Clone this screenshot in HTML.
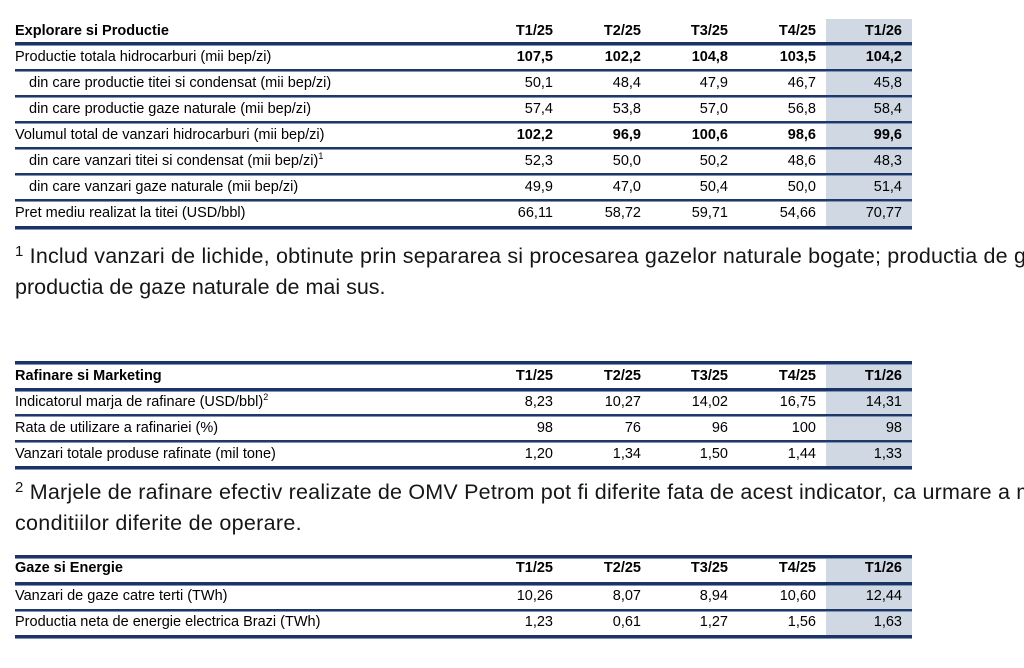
<!DOCTYPE html>
<html><head><meta charset="utf-8">
<style>
html,body{margin:0;padding:0;background:#fff;}
body{width:1024px;height:668px;position:relative;overflow:hidden;font-family:"Liberation Sans",Arial,sans-serif;color:#000;}
.shade{position:absolute;left:826px;width:86px;background:#cfd8e3;}
.ln{position:absolute;left:15px;width:897px;height:2px;background:#1f3866;box-shadow:0 1px 0 #7d93b8;}
.ln.t{height:3px;background:#1c3463;}
.row{position:absolute;left:15px;width:897px;height:20px;line-height:20px;display:flex;font-size:14.5px;white-space:nowrap;overflow:hidden;}
.row > div{flex:none;}
.row .l{width:460px;box-sizing:border-box;}
.row .l.i{padding-left:14px;}
.row .c{box-sizing:border-box;text-align:right;padding-right:10px;}
.c1{width:88px}.c2{width:88px}.c3{width:87px}.c5{width:88px}.c4{width:86px}
.b{font-weight:bold;}
sup.s{font-size:9px;line-height:0;vertical-align:6px;}
.clip{position:absolute;left:0;width:1024px;height:31px;overflow:hidden;}
.fn{position:absolute;left:15px;top:0;font-size:21.5px;line-height:31px;white-space:nowrap;color:#161616;}
.fn sup{font-size:15px;line-height:0;vertical-align:7px;}
</style></head><body>

<!-- Table 1 -->
<div class="shade" style="top:19px;height:209px;"></div>
<div class="row b" style="top:21px;"><div class="l">Explorare si Productie</div><div class="c c1">T1/25</div><div class="c c2">T2/25</div><div class="c c3">T3/25</div><div class="c c5">T4/25</div><div class="c c4">T1/26</div></div>
<div class="ln t" style="top:42px;"></div>
<div class="row" style="top:47px;"><div class="l">Productie totala hidrocarburi (mii bep/zi)</div><div class="c c1 b">107,5</div><div class="c c2 b">102,2</div><div class="c c3 b">104,8</div><div class="c c5 b">103,5</div><div class="c c4 b">104,2</div></div>
<div class="ln" style="top:69px;"></div>
<div class="row" style="top:73px;"><div class="l i">din care productie titei si condensat (mii bep/zi)</div><div class="c c1">50,1</div><div class="c c2">48,4</div><div class="c c3">47,9</div><div class="c c5">46,7</div><div class="c c4">45,8</div></div>
<div class="ln" style="top:95px;"></div>
<div class="row" style="top:99px;"><div class="l i">din care productie gaze naturale (mii bep/zi)</div><div class="c c1">57,4</div><div class="c c2">53,8</div><div class="c c3">57,0</div><div class="c c5">56,8</div><div class="c c4">58,4</div></div>
<div class="ln" style="top:121px;"></div>
<div class="row" style="top:125px;"><div class="l">Volumul total de vanzari hidrocarburi (mii bep/zi)</div><div class="c c1 b">102,2</div><div class="c c2 b">96,9</div><div class="c c3 b">100,6</div><div class="c c5 b">98,6</div><div class="c c4 b">99,6</div></div>
<div class="ln" style="top:147px;"></div>
<div class="row" style="top:151px;"><div class="l i">din care vanzari titei si condensat (mii bep/zi)<sup class="s">1</sup></div><div class="c c1">52,3</div><div class="c c2">50,0</div><div class="c c3">50,2</div><div class="c c5">48,6</div><div class="c c4">48,3</div></div>
<div class="ln" style="top:173px;"></div>
<div class="row" style="top:177px;"><div class="l i">din care vanzari gaze naturale (mii bep/zi)</div><div class="c c1">49,9</div><div class="c c2">47,0</div><div class="c c3">50,4</div><div class="c c5">50,0</div><div class="c c4">51,4</div></div>
<div class="ln" style="top:199px;"></div>
<div class="row" style="top:203px;"><div class="l">Pret mediu realizat la titei (USD/bbl)</div><div class="c c1">66,11</div><div class="c c2">58,72</div><div class="c c3">59,71</div><div class="c c5">54,66</div><div class="c c4">70,77</div></div>
<div class="ln t" style="top:226px;"></div>

<div class="clip" style="top:241px;"><div class="fn" style="letter-spacing:0.18px;"><sup>1</sup> Includ vanzari de lichide, obtinute prin separarea si procesarea gazelor naturale bogate; productia de g</div></div>
<div class="clip" style="top:272px;"><div class="fn">productia de gaze naturale de mai sus.</div></div>

<!-- Table 2 -->
<div class="shade" style="top:361px;height:107px;"></div>
<div class="ln t" style="top:361px;"></div>
<div class="row b" style="top:366px;"><div class="l">Rafinare si Marketing</div><div class="c c1">T1/25</div><div class="c c2">T2/25</div><div class="c c3">T3/25</div><div class="c c5">T4/25</div><div class="c c4">T1/26</div></div>
<div class="ln t" style="top:388px;"></div>
<div class="row" style="top:392px;"><div class="l">Indicatorul marja de rafinare (USD/bbl)<sup class="s">2</sup></div><div class="c c1">8,23</div><div class="c c2">10,27</div><div class="c c3">14,02</div><div class="c c5">16,75</div><div class="c c4">14,31</div></div>
<div class="ln" style="top:414px;"></div>
<div class="row" style="top:418px;"><div class="l">Rata de utilizare a rafinariei (%)</div><div class="c c1">98</div><div class="c c2">76</div><div class="c c3">96</div><div class="c c5">100</div><div class="c c4">98</div></div>
<div class="ln" style="top:440px;"></div>
<div class="row" style="top:444px;"><div class="l">Vanzari totale produse rafinate (mil tone)</div><div class="c c1">1,20</div><div class="c c2">1,34</div><div class="c c3">1,50</div><div class="c c5">1,44</div><div class="c c4">1,33</div></div>
<div class="ln t" style="top:466px;"></div>

<div class="clip" style="top:477px;"><div class="fn" style="letter-spacing:0.2px;"><sup>2</sup> Marjele de rafinare efectiv realizate de OMV Petrom pot fi diferite fata de acest indicator, ca urmare a m</div></div>
<div class="clip" style="top:508px;"><div class="fn" style="letter-spacing:0.3px;">conditiilor diferite de operare.</div></div>

<!-- Table 3 -->
<div class="shade" style="top:555px;height:83px;"></div>
<div class="ln t" style="top:555px;"></div>
<div class="row b" style="top:558px;"><div class="l">Gaze si Energie</div><div class="c c1">T1/25</div><div class="c c2">T2/25</div><div class="c c3">T3/25</div><div class="c c5">T4/25</div><div class="c c4">T1/26</div></div>
<div class="ln t" style="top:582px;"></div>
<div class="row" style="top:586px;"><div class="l">Vanzari de gaze catre terti (TWh)</div><div class="c c1">10,26</div><div class="c c2">8,07</div><div class="c c3">8,94</div><div class="c c5">10,60</div><div class="c c4">12,44</div></div>
<div class="ln" style="top:609px;"></div>
<div class="row" style="top:612px;"><div class="l">Productia neta de energie electrica Brazi (TWh)</div><div class="c c1">1,23</div><div class="c c2">0,61</div><div class="c c3">1,27</div><div class="c c5">1,56</div><div class="c c4">1,63</div></div>
<div class="ln t" style="top:635px;"></div>

</body></html>
